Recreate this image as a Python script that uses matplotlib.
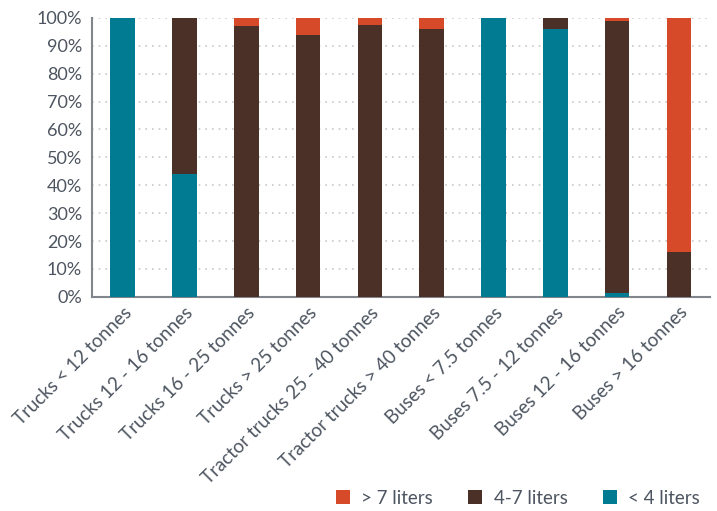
import matplotlib.pyplot as plt
import numpy as np

plt.rcParams['font.family'] = ['Lato', 'DejaVu Sans']

# data (share of vehicles, %)
categories = ["Trucks < 12 tonnes", "Trucks 12 - 16 tonnes", "Trucks 16 - 25 tonnes",
              "Trucks > 25 tonnes", "Tractor trucks 25 - 40 tonnes", "Tractor trucks > 40 tonnes",
              "Buses < 7.5 tonnes", "Buses 7.5 - 12 tonnes", "Buses 12 - 16 tonnes",
              "Buses > 16 tonnes"]
under_4 = [100, 44, 0, 0, 0, 0, 100, 96, 1.5, 0]
from_4_to_7 = [0, 56, 97, 94, 97.5, 96, 0, 4, 97.5, 16]
over_7 = [0, 0, 3, 6, 2.5, 4, 0, 0, 1, 84]
tick_labels = ["0%", "10%", "20%", "30%", "40%", "50%", "60%", "70%", "80%", "90%", "100%"]

text_col = '#4d5560'
fig = plt.figure(figsize=(7.17, 5.11), dpi=100)
ax = fig.add_axes([0.128, 0.419, 0.862, 0.546])

x = np.arange(len(categories))
w = 0.4
ax.bar(x, under_4, w, color='#007B92', label='< 4 liters', zorder=3)
ax.bar(x, from_4_to_7, w, bottom=under_4, color='#4B3027', label='4-7 liters', zorder=3)
b2 = np.array(under_4) + np.array(from_4_to_7)
ax.bar(x, over_7, w, bottom=b2, color='#D64A29', label='> 7 liters', zorder=3)

ax.set_xlim(-0.5, len(categories) - 0.5)
ax.set_ylim(0, 100)
ax.set_yticks(np.arange(0, 101, 10))
ax.set_yticklabels(tick_labels, fontsize=13, color=text_col)
ax.set_xticks(x)
ax.set_xticklabels(categories, rotation=45, ha='right', rotation_mode='anchor',
                   fontsize=13.5, color=text_col)
ax.tick_params(axis='y', length=0, pad=7)
ax.tick_params(axis='x', length=0, pad=5)
ax.grid(axis='y', linestyle=(0, (1, 3)), color='#c8c8c8', linewidth=1.2, zorder=0)
for s in ['top', 'right']:
    ax.spines[s].set_visible(False)
for s in ['left', 'bottom']:
    ax.spines[s].set_color('#80868c')
    ax.spines[s].set_linewidth(1.5)

h, l = ax.get_legend_handles_labels()
fig.legend(h[::-1], l[::-1], loc='lower right', bbox_to_anchor=(1.0, -0.025), ncol=3,
           frameon=False, fontsize=13.5, labelcolor=text_col, handlelength=0.75,
           handleheight=0.75, columnspacing=1.9, handletextpad=0.6)

fig.savefig('out.png', dpi=100)
